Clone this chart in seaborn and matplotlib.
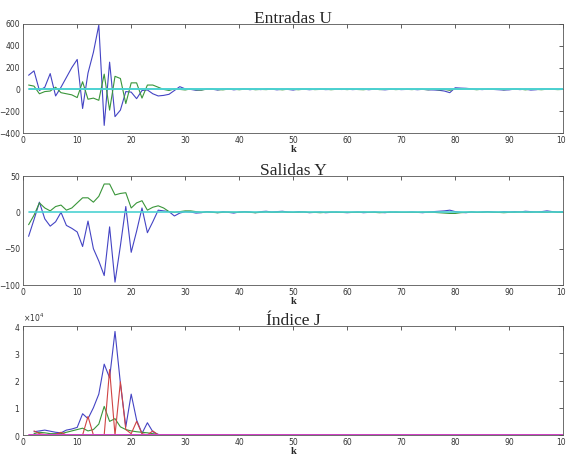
import numpy as np
import pandas as pd
import matplotlib
matplotlib.use("Agg")
import matplotlib.pyplot as plt
import seaborn as sns
from matplotlib.ticker import ScalarFormatter

k = list(range(1, 101))

# Entradas U
u_blue = [130, 170, -10, 20, 145, -60, 20, 110, 200, 275,
          -175, 150, 340, 590, -330, 250, -250, -190, -20, -25,
          -85, -10, -5, -40, -60, -55, -45, -10, 25, 5,
          0, -8, -5, 4, 2, -6, 3, 5, -4, 2,
          6, -3, 4, -2, 5, 3, -4, 2, 0, -6,
          4, 2, -3, 1, 3, -2, 0, 2, -1, 3,
          -2, 1, 3, -3, 2, 0, -4, 1, 3, -2,
          0, 2, -3, 1, -4, -5, -8, -15, -30, 15,
          12, 10, 6, 2, -2, 3, 0, -3, -6, -4,
          3, -2, 2, -6, -3, 5, 4, 0, 2, 1]
u_green = [40, 30, -40, -20, -15, 20, -30, -40, -50, -75,
           70, -90, -80, -100, 140, -190, 120, 100, -130, 60,
           60, -80, 40, 40, 20, 0, -10, 5, 0, -5,
           4, -3, -6, 2, 5, -2, -4, 3, 2, -3,
           2, 4, -3, 0, -2, 3, 1, -4, 2, 0,
           -3, 2, 4, -2, 0, 3, -3, 1, 2, -2,
           3, -1, -3, 2, 4, -2, 0, 3, -2, 1,
           1, -2, 3, 0, -3, 2, -4, 0, -8, 5,
           3, 8, 2, -3, 2, 0, 3, 4, -3, 2,
           5, 3, -4, 2, 0, -3, 2, 1, -2, 0]
u_ref = [0] * 100

# Salidas Y
y_blue = [-33, -10, 14, -9, -19, -13, 0, -18, -22, -27,
          -47, -12, -50, -67, -87, -20, -96, -46, 8, -55,
          -26, 6, -28, -13, 3, 2, 1, -5, -1, 1,
          0.5, -1, -0.5, 1, 0.5, -0.5, 1, 0, -1, 0.5,
          1, 0.5, -0.5, 1, 1.5, 0.5, 1, 1.5, 0.5, 0,
          1, 0.5, -0.5, 0, 0.5, -0.5, 0, 0.5, 0, -0.5,
          0, 0.5, -0.5, 0, 0.5, 0, -0.5, 0.5, 0, 0,
          0, 0.5, 0, -0.5, 0.5, 1, 1.5, 2, 3, 1,
          0, -0.5, 0.5, 0, 0.5, 1, 0.5, 0, 1, 0.5,
          1, 0.5, 1.5, 1, 0.5, 1, 2, 1, 0.5, 1]
y_green = [-17, -4, 13, 6, 2, 8, 10, 3, 6, 13,
           20, 20, 14, 22, 39, 39, 24, 26, 27, 6,
           13, 16, 3, 7, 9, 6, 1, 0, 1, 2,
           2, 1, 0, 0.5, 0, -0.5, 0, 0.5, 0, 0,
           0.5, 0, -0.5, 0, 0.5, 0, 0, 0.5, 0, 0,
           0, 0.5, 0, 0, -0.5, 0, 0.5, 0, 0, 0,
           0, 0, 0.5, 0, 0, -0.5, 0, 0, 0.5, 0,
           0, 0, 0, 0.5, 0, 0, -0.5, -1, -1.5, -1.5,
           -0.5, 0, 0.5, 0, 0, 0.5, 0, 0, -0.5, 0,
           0, 0.5, 0, 0, 0.5, 0, 0, 0.5, 0, 0]
y_ref = [0] * 100

# Indice J
j_blue = [np.nan, 1200, 1500, 1800, 1400, 1000, 800, 1800, 2200, 2800,
          7800, 6000, 10000, 15000, 26000, 21000, 38000, 19000, 3000, 15000,
          5500, 600, 4500, 1200, 200] + [0] * 75
j_red = [np.nan, 1500, 500, 200, 0, 200, 1000, 0, 0, 0,
         0, 6800, 0, 0, 0, 24000, 0, 19500, 2000, 500,
         5000, 500, 0, 1500, 0] + [0] * 75
j_green = [np.nan, 500, 1000, 800, 500, 500, 500, 1000, 1500, 2000,
           2500, 1500, 2000, 4000, 10500, 5000, 6000, 3000, 2000, 1500,
           1200, 1000, 800, 500, 200] + [0] * 75
j_ref = [0] * 100

c_blue = "#4444c4"
c_green = "#3a963a"
c_cyan = "#4cd2d2"
c_red = "#d04444"
c_mag = "#d040c8"

sns.set_style("white")
fig = plt.figure(figsize=(5.66, 4.58), dpi=100)

panels = [
    ("Entradas U", [(u_blue, c_blue, 0.8), (u_green, c_green, 0.8), (u_ref, c_cyan, 1.4)],
     (-400, 600), [-400, -200, 0, 200, 400, 600], 0.7096),
    ("Salidas Y", [(y_blue, c_blue, 0.8), (y_green, c_green, 0.8), (y_ref, c_cyan, 1.2)],
     (-100, 50), [-100, -50, 0, 50], 0.3777),
    ("Índice J", [(j_blue, c_blue, 0.8), (j_green, c_green, 0.8), (j_red, c_red, 0.8),
                  (j_ref, c_mag, 1.4)],
     (0, 40000), [0, 10000, 20000, 30000, 40000], 0.0502),
]

for title, series, ylim, yticks, bottom in panels:
    ax = fig.add_axes([0.041, bottom, 0.954, 0.238])
    for vals, col, lw in series:
        df = pd.DataFrame({"k": k, "v": vals})
        sns.lineplot(data=df, x="k", y="v", ax=ax, color=col, lw=lw)
    ax.set_xlim(0, 100)
    ax.set_ylim(*ylim)
    ax.set_xticks(range(0, 101, 10))
    ax.set_yticks(yticks)
    ax.tick_params(direction="in", length=3, width=0.6, top=True, right=True,
                   labelsize=5.5, labelcolor="#333333", color="#444444", pad=2)
    for s in ax.spines.values():
        s.set_linewidth(0.6)
        s.set_color("#555555")
    ax.set_ylabel("")
    ax.set_xlabel("k", family="Liberation Serif", fontweight="bold", fontsize=7.5, labelpad=0)
    ax.set_title(title, family="Liberation Serif", fontsize=12.5, pad=1)
    if title == "Índice J":
        fmt = ScalarFormatter(useMathText=True)
        fmt.set_powerlimits((0, 0))
        ax.yaxis.set_major_formatter(fmt)
        ax.yaxis.get_offset_text().set_fontsize(5.5)
        ax.yaxis.get_offset_text().set_color("#333333")

fig.savefig("out.png", dpi=100)
